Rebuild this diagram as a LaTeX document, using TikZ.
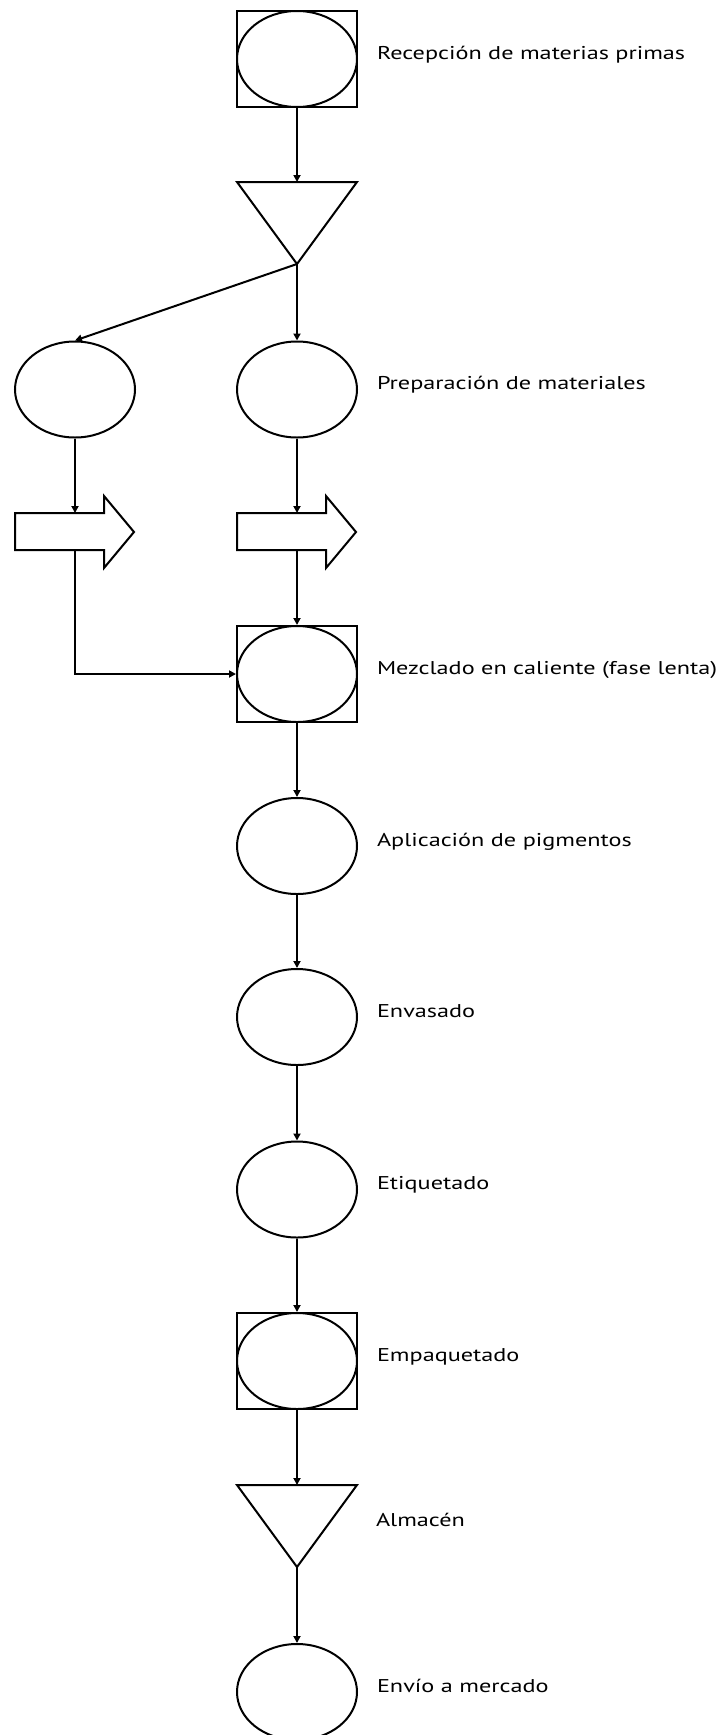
\documentclass[tikz,border=0pt]{standalone}
\usepackage{fontspec}
\setmainfont[FakeStretch=1.31]{PT Sans}
\usetikzlibrary{arrows.meta,positioning,shapes.geometric}

\tikzset{
	op/.style={draw, ellipse, minimum width=120pt, minimum height=96pt, inner sep=0pt},
	opbox/.style={draw, rectangle, minimum width=120pt, minimum height=96pt, inner sep=0pt},
	flow/.style={-{Triangle[length=7pt,width=7pt]}},
	txt/.style={anchor=base west, inner sep=0pt, font=\fontsize{18.5}{22}\selectfont}
}

\begin{document}
\begin{tikzpicture}[x=1pt, y=-1pt, line width=2pt]
				\useasboundingbox (0,0) rectangle (720,1735);
				
				\node[opbox] (recbox) at (297,59) {};
				\node[op] (rec) at (297,59) {};
				\node[txt] (rec-t) at ([xshift=18pt]recbox.east) {Recepción de materias primas};
				
				\coordinate (alm1) at (297,182);
				\draw (237,182) -- (357,182) -- (297,264) coordinate (alm1-tip) -- cycle;
				
				\node[op] (lprep) at (75,389.5) {};
				\node[op] (prep) at (297,389.5) {};
				\node[txt] (prep-t) at ([xshift=18pt]prep.east) {Preparación de materiales};
				
				\foreach \x/\nm in {15/lmov, 237/mov}{
					\draw (\x,513) -- (\x+89,513) -- (\x+89,496) -- (\x+119,532) -- (\x+89,568) -- (\x+89,550) -- (\x,550) -- cycle;
					\coordinate (\nm-top) at (\x+60,513);
					\coordinate (\nm-bot) at (\x+60,550);
				}
				
				\node[opbox] (mixbox) at (297,674) {};
				\node[op] (mix) at (297,674) {};
				\node[txt] (mix-t) at ([xshift=18pt]mixbox.east) {Mezclado en caliente (fase lenta)};
				
				\node[op] (apl) at (297,846) {};
				\node[txt] (apl-t) at ([xshift=18pt]apl.east) {Aplicación de pigmentos};
				
				\node[op] (env) at (297,1017) {};
				\node[txt] (env-t) at ([xshift=18pt]env.east) {Envasado};
				
				\node[op] (eti) at (297,1189.5) {};
				\node[txt] (eti-t) at ([xshift=18pt]eti.east) {Etiquetado};
				
				\node[opbox] (empbox) at (297,1361) {};
				\node[op] (emp) at (297,1361) {};
				\node[txt] (emp-t) at ([xshift=18pt]empbox.east) {Empaquetado};
				
				\coordinate (alm) at (297,1485);
				\draw (237,1485) -- (357,1485) -- (297,1567) coordinate (alm-tip) -- cycle;
				\node[txt] (alm-t) at (375,1526) {Almacén};
				
				\node[op] (mer) at (297,1692) {};
				\node[txt] (mer-t) at ([xshift=18pt]mer.east) {Envío a mercado};
				
				\draw[flow] (recbox) -- (alm1);
				\draw[flow] (alm1-tip) -- (lprep.north);
				\draw[flow] (alm1-tip) -- (prep);
				\draw[flow] (lprep) -- (lmov-top);
				\draw[flow] (prep) -- (mov-top);
				\draw[flow] (lmov-bot) |- (mixbox.west);
				\draw[flow] (mov-bot) -- (mixbox);
				\draw[flow] (mixbox) -- (apl);
				\draw[flow] (apl) -- (env);
				\draw[flow] (env) -- (eti);
				\draw[flow] (eti) -- (empbox);
				\draw[flow] (empbox) -- (alm);
				\draw[flow] (alm-tip) -- (mer);
			\end{tikzpicture}
\end{document}
